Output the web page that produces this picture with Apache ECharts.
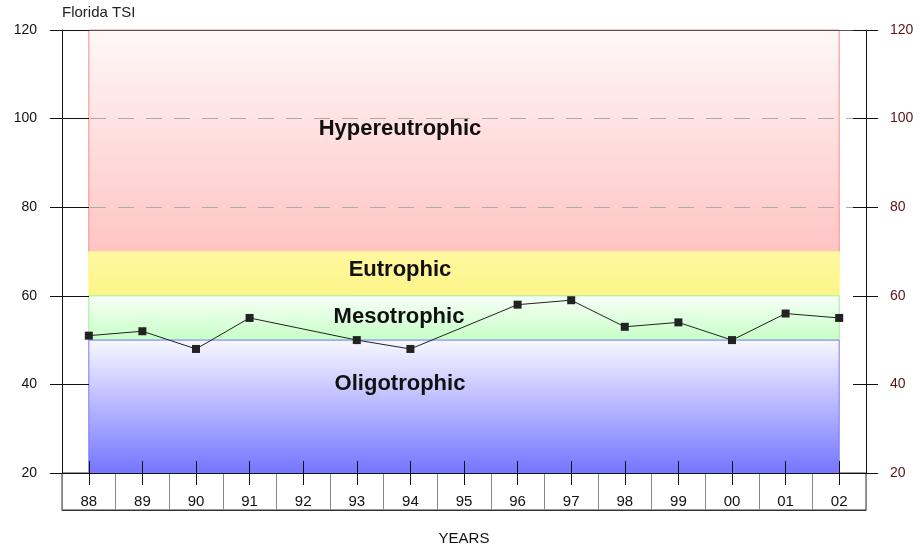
<!DOCTYPE html>
<html><head><meta charset="utf-8">
<script src="https://cdn.jsdelivr.net/npm/echarts@6/dist/echarts.min.js"></script>
<style>html,body{margin:0;padding:0;background:#fff}#c{width:921px;height:548px}</style>
</head><body><div id="c"></div>
<script>
var years = ['88','89','90','91','92','93','94','95','96','97','98','99','00','01','02'];
var tsi = [51, 52, 48, 55, null, 50, 48, null, 58, 59, 53, 54, 50, 56, 55];
var yTicks = [20, 40, 60, 80, 100, 120];
var bands = [
  {name: 'Hypereutrophic', from: 70, to: 120},
  {name: 'Eutrophic', from: 60, to: 70},
  {name: 'Mesotrophic', from: 50, to: 60},
  {name: 'Oligotrophic', from: 20, to: 50}
];
var gridLines = [80, 100];

var G = echarts.graphic.LinearGradient;
var bandStyle = {
  Hypereutrophic: {color: new G(0,0,0,1,[{offset:0,color:'#fff8f8'},{offset:1,color:'#ffc4c4'}]), borderColor:'#ff8a8a', offset:[-64,-12]},
  Eutrophic: {color: new G(0,0,0,1,[{offset:0,color:'#fff8a0'},{offset:1,color:'#fff488'}]), borderColor:'#fff488', offset:[-64,-4]},
  Mesotrophic: {color: new G(0,0,0,1,[{offset:0,color:'#f8fff8'},{offset:1,color:'#c6ffc6'}]), borderColor:'#99f099', offset:[-65,-1]},
  Oligotrophic: {color: new G(0,0,0,1,[{offset:0,color:'#f8f8ff'},{offset:1,color:'#7474ff'}]), borderColor:'#7a7aff', offset:[-64,-23]}
};
var areaData = bands.map(function(b){
  var s = bandStyle[b.name];
  return [{name: b.name, xAxis: years[0], yAxis: b.to,
           itemStyle: {color: s.color, borderColor: s.borderColor, borderWidth: 1},
           label: {offset: s.offset}},
          {xAxis: years[years.length-1], yAxis: b.from}];
});
var yMin = yTicks[0], yMax = yTicks[yTicks.length-1], yInt = yTicks[1]-yTicks[0];
var font = 'Liberation Sans, Arial, Helvetica, sans-serif';
function clearLine(){ return {show: true, lineStyle: {color: 'rgba(0,0,0,0)'}}; }

var chart = echarts.init(document.getElementById('c'), null, {renderer:'canvas'});
chart.setOption({
  animation: false,
  textStyle: {fontFamily: font},
  title: {text: 'Florida TSI', left: 57, top: 0, textStyle: {fontSize: 15, fontWeight: 'normal', color: '#222', fontFamily: font}},
  grid: [
    {left: 62, right: 55, top: 30, bottom: 75},
    {left: 62, right: 55, top: 473, height: 37, show: true, borderColor: '#333', borderWidth: 1, backgroundColor: 'transparent'}
  ],
  xAxis: [
    {gridIndex: 0, type: 'category', data: years, boundaryGap: true, position: 'bottom', z: 10,
     axisLine: {lineStyle: {color: '#111'}}, axisTick: {show: false},
     axisLabel: {show: false}, splitLine: {show: false}},
    {gridIndex: 0, type: 'category', data: years, boundaryGap: true, position: 'top', z: 10,
     axisLine: {lineStyle: {color: '#555'}}, axisTick: {show: false}, axisLabel: {show: false}},
    {gridIndex: 0, type: 'category', data: years, boundaryGap: true, position: 'bottom', offset: -12, z: 11,
     axisLine: clearLine(), axisTick: {show: true, length: 24, alignWithLabel: true, interval: 0, lineStyle: {color: '#111'}},
     axisLabel: {show: false}, splitLine: {show: false}},
    {gridIndex: 1, type: 'category', data: years, boundaryGap: true, position: 'bottom', z: 10,
     axisLine: {lineStyle: {color: '#333'}}, axisTick: {show: false},
     axisLabel: {inside: true, margin: 1, interval: 0, fontSize: 15, color: '#111', fontFamily: font},
     splitLine: {show: true, interval: 0, lineStyle: {color: '#888', width: 1}},
     name: 'YEARS', nameLocation: 'middle', nameGap: 21, nameTextStyle: {fontSize: 15, color: '#111', fontFamily: font}}
  ],
  yAxis: [
    {gridIndex: 0, type: 'value', position: 'left', offset: -27, min: yMin, max: yMax, interval: yInt, z: 11,
     axisLine: clearLine(), axisTick: {show: true, length: 39, lineStyle: {color: '#111'}},
     axisLabel: {margin: 52, fontSize: 14, color: '#111', fontFamily: font}, splitLine: {show: false}},
    {gridIndex: 0, type: 'value', position: 'left', min: yMin, max: yMax, interval: yInt, z: 10,
     axisLine: {show: true, lineStyle: {color: '#111'}}, axisTick: {show: false},
     axisLabel: {show: false}, splitLine: {show: false}},
    {gridIndex: 0, type: 'value', position: 'right', offset: -13, min: yMin, max: yMax, interval: yInt, z: 11,
     axisLine: clearLine(), axisTick: {show: true, length: 25, lineStyle: {color: '#111'}},
     axisLabel: {margin: 37, fontSize: 14, color: '#5a1414', fontFamily: font}, splitLine: {show: false}},
    {gridIndex: 0, type: 'value', position: 'right', min: yMin, max: yMax, interval: yInt, z: 10,
     axisLine: {show: true, lineStyle: {color: '#111'}}, axisTick: {show: false},
     axisLabel: {show: false}, splitLine: {show: false}},
    {gridIndex: 1, type: 'value', show: false, min: 0, max: 1}
  ],
  series: [
    {type: 'line', xAxisIndex: 0, yAxisIndex: 0, data: tsi, symbol: 'none', z: 1,
     lineStyle: {opacity: 0}, silent: true,
     markArea: {silent: true,
       label: {show: true, position: 'inside', fontSize: 22, fontWeight: 'bold', color: '#111', fontFamily: font},
       data: areaData},
     markLine: {silent: true, symbol: 'none', label: {show: false},
       lineStyle: {color: '#aaa', type: [16, 12], width: 1},
       data: gridLines.map(function(v){ return {yAxis: v}; })}
    },
    {type: 'line', xAxisIndex: 0, yAxisIndex: 0, data: tsi, connectNulls: true, z: 12,
     symbol: 'rect', symbolSize: 8, itemStyle: {color: '#222'},
     lineStyle: {color: '#222', width: 1}}
  ]
});
</script></body></html>
